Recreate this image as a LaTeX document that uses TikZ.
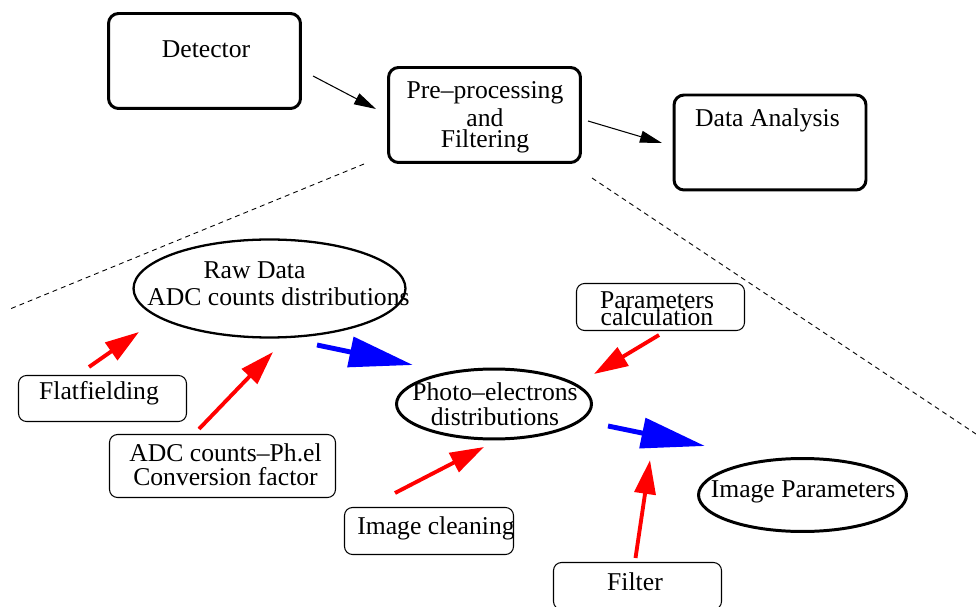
\documentclass[tikz,border=0pt]{standalone}
\usepackage{fontspec}
\setmainfont{Liberation Serif}
\usetikzlibrary{shapes.geometric,arrows.meta,calc}

\begin{document}
\begin{tikzpicture}[
    x=0.02cm, y=-0.02cm,
    every node/.style={font=\fontsize{14.6}{15}\selectfont, inner sep=0pt},
    bigbox/.style={draw, line width=1.7pt, rounded corners=0.2cm, minimum width=3.84cm, minimum height=1.9cm},
    smallbox/.style={draw, line width=0.6pt, rounded corners=0.16cm},
    oval/.style={draw, ellipse, line width=1.7pt},
    txt/.style={align=center},
    arr/.style={-{Triangle[length=0.44cm, width=0.24cm]}, line width=0.6pt},
    redarr/.style={-{Triangle[length=0.68cm, width=0.42cm]}, line width=2.2pt, red},
    bluearr/.style={-{Triangle[length=1.28cm, width=0.6cm]}, line width=2.8pt, blue},
    zoomline/.style={dash pattern=on 2.8pt off 2.3pt, line width=0.5pt}
]
\useasboundingbox (0,0) rectangle (976,607);

% Chain at the top
\node[bigbox] (det) at (204.5,61) {};
\node[txt] (det-t) at (206,49) {Detector};
\node[bigbox] (pre) at (484.5,115) {};
\node[txt] (pre-t) at (485,117.5) {Pre–processing\\[1pt] and\\[-3.3pt] Filtering};
\node[bigbox] (da) at (770,142.5) {};
\node[txt] (da-t) at (767.5,120) {Data Analysis};

\draw[arr] ($(det)+(108.5,15)$) -- ($(pre)+(-108.5,-6)$);
\draw[arr] ($(pre)+(103.5,6)$) -- ($(da)+(-108,0.5)$);

% Zoom into the pre-processing
\coordinate (zl) at (10,309);
\coordinate (zr) at (976,434);
\draw[zoomline] ($(pre)+(-120.5,49)$) -- (zl);
\draw[zoomline] ($(pre)+(107.5,63)$) -- (zr);

% Data stages
\node[oval, line width=1.3pt, minimum width=5.44cm, minimum height=1.96cm] (raw) at (269.5,288.5) {};
\node (raw-t1) at (254.5,270) {Raw Data};
\node (raw-t2) at (278.5,297) {ADC counts distributions};
\node[oval, minimum width=3.9cm, minimum height=1.4cm] (pe) at (494,404) {};
\node[txt] (pe-t) at (495,404.5) {Photo–electrons\\[-0.8pt] distributions};
\node[oval, minimum width=4.16cm, minimum height=1.46cm] (ip) at (802.5,495) {};
\node (ip-t) at (803,492) {Image Parameters};

% Steps
\node[smallbox, minimum width=3.36cm, minimum height=0.92cm] (flat) at (102.5,398.5) {};
\node (flat-t) at (99,393) {Flatfielding};
\node[smallbox, minimum width=4.52cm, minimum height=1.26cm] (adc) at (222.5,466) {};
\node[txt] (adc-t) at (225.5,465) {ADC counts–Ph.el\\[-1.4pt] Conversion factor};
\node[smallbox, minimum width=3.38cm, minimum height=0.94cm] (clean) at (429,531) {};
\node (clean-t) at (436,528) {Image cleaning};
\node[smallbox, minimum width=3.36cm, minimum height=0.94cm] (param) at (660.5,307) {};
\node[txt] (param-t) at (657,308.5) {Parameters\\[-5.2pt] calculation};
\node[smallbox, minimum width=3.36cm, minimum height=0.94cm] (filter) at (637.5,586) {};
\node (filter-t) at (635,582) {Filter};

% Flow
\draw[bluearr] ($(raw)+(47.5,56.5)$) -- ($(pe)+(-81,-39)$);
\draw[bluearr] ($(pe)+(114,22)$) -- ($(ip)+(-97.5,-49)$);

\draw[redarr] ($(flat)+(-13.5,-31.5)$) -- ($(raw)+(-130.5,43.5)$);
\draw[redarr] ($(adc)+(-23.5,-37)$) -- ($(raw)+(3.5,63.5)$);
\draw[redarr] ($(clean)+(-34,-38)$) -- ($(pe)+(-10,43)$);
\draw[redarr] ($(param)+(-1.5,28)$) -- ($(pe)+(100,-30)$);
\draw[redarr] ($(filter)+(-2,-28)$) -- ($(ip)+(-152.5,-35)$);
\end{tikzpicture}
\end{document}
